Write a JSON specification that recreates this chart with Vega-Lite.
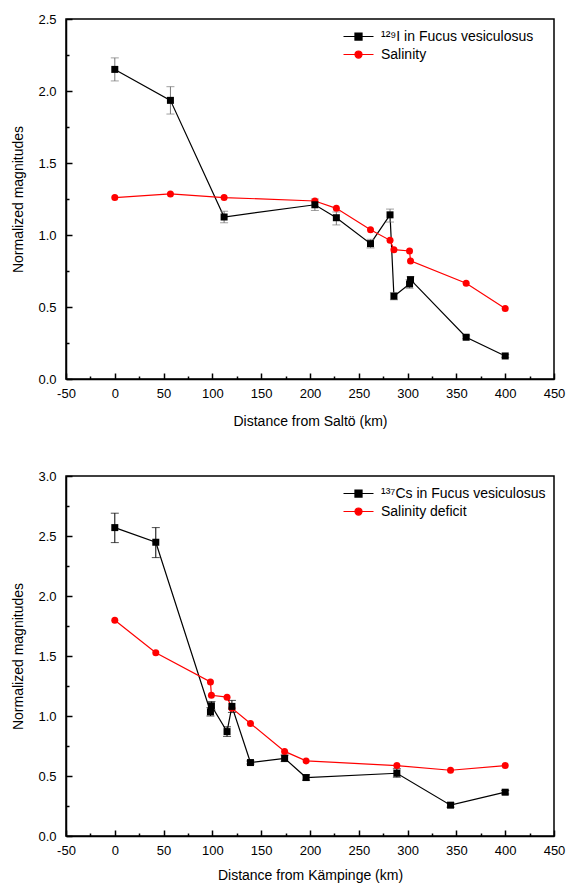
{
  "$schema": "https://vega.github.io/schema/vega-lite/v6.json",
  "padding": {"left": 11, "top": 12, "right": 10, "bottom": 2},
  "spacing": 40,
  "resolve": {"scale": {"color": "independent"}, "legend": {"color": "independent"}},
  "config": {
    "font": "Liberation Sans",
    "view": {"stroke": "black", "strokeWidth": 1.5},
    "axis": {"domainColor": "black", "domainWidth": 1.5, "tickColor": "black", "tickWidth": 1.5, "labelColor": "black", "labelFontSize": 13, "titleFontSize": 14, "titleFontWeight": "normal", "titleColor": "black", "grid": false, "labelFlush": false, "labelOverlap": false, "labelBound": false}
  },
  "datasets": {
    "top": [
      {"d": 0, "v": 2.15, "lo": 2.07, "hi": 2.23, "s": "¹²⁹I in Fucus vesiculosus"},
      {"d": 57, "v": 1.935, "lo": 1.84, "hi": 2.03, "s": "¹²⁹I in Fucus vesiculosus"},
      {"d": 112, "v": 1.125, "lo": 1.085, "hi": 1.165, "s": "¹²⁹I in Fucus vesiculosus"},
      {"d": 205, "v": 1.21, "lo": 1.17, "hi": 1.25, "s": "¹²⁹I in Fucus vesiculosus"},
      {"d": 227, "v": 1.12, "lo": 1.07, "hi": 1.16, "s": "¹²⁹I in Fucus vesiculosus"},
      {"d": 262, "v": 0.94, "lo": 0.91, "hi": 0.97, "s": "¹²⁹I in Fucus vesiculosus"},
      {"d": 282, "v": 1.14, "lo": 1.09, "hi": 1.18, "s": "¹²⁹I in Fucus vesiculosus"},
      {"d": 286, "v": 0.575, "lo": 0.55, "hi": 0.6, "s": "¹²⁹I in Fucus vesiculosus"},
      {"d": 302, "v": 0.66, "lo": 0.63, "hi": 0.69, "s": "¹²⁹I in Fucus vesiculosus"},
      {"d": 303, "v": 0.69, "lo": 0.67, "hi": 0.71, "s": "¹²⁹I in Fucus vesiculosus"},
      {"d": 360, "v": 0.29, "lo": 0.28, "hi": 0.3, "s": "¹²⁹I in Fucus vesiculosus"},
      {"d": 400, "v": 0.16, "lo": 0.15, "hi": 0.17, "s": "¹²⁹I in Fucus vesiculosus"},
      {"d": 0, "v": 1.26, "s": "Salinity"},
      {"d": 57, "v": 1.285, "s": "Salinity"},
      {"d": 112, "v": 1.26, "s": "Salinity"},
      {"d": 205, "v": 1.236, "s": "Salinity"},
      {"d": 227, "v": 1.185, "s": "Salinity"},
      {"d": 262, "v": 1.037, "s": "Salinity"},
      {"d": 282, "v": 0.963, "s": "Salinity"},
      {"d": 286, "v": 0.898, "s": "Salinity"},
      {"d": 302, "v": 0.889, "s": "Salinity"},
      {"d": 303, "v": 0.82, "s": "Salinity"},
      {"d": 360, "v": 0.665, "s": "Salinity"},
      {"d": 400, "v": 0.49, "s": "Salinity"}
    ],
    "bot": [
      {"d": 0, "v": 2.57, "lo": 2.445, "hi": 2.69, "s": "¹³⁷Cs in Fucus vesiculosus"},
      {"d": 42, "v": 2.448, "lo": 2.32, "hi": 2.57, "s": "¹³⁷Cs in Fucus vesiculosus"},
      {"d": 98, "v": 1.035, "lo": 1.0, "hi": 1.07, "s": "¹³⁷Cs in Fucus vesiculosus"},
      {"d": 99, "v": 1.085, "lo": 1.05, "hi": 1.12, "s": "¹³⁷Cs in Fucus vesiculosus"},
      {"d": 115, "v": 0.87, "lo": 0.83, "hi": 0.91, "s": "¹³⁷Cs in Fucus vesiculosus"},
      {"d": 120, "v": 1.08, "lo": 1.03, "hi": 1.13, "s": "¹³⁷Cs in Fucus vesiculosus"},
      {"d": 139, "v": 0.612, "lo": 0.6, "hi": 0.625, "s": "¹³⁷Cs in Fucus vesiculosus"},
      {"d": 174, "v": 0.647, "lo": 0.62, "hi": 0.675, "s": "¹³⁷Cs in Fucus vesiculosus"},
      {"d": 196, "v": 0.487, "lo": 0.465, "hi": 0.51, "s": "¹³⁷Cs in Fucus vesiculosus"},
      {"d": 289, "v": 0.523, "lo": 0.49, "hi": 0.56, "s": "¹³⁷Cs in Fucus vesiculosus"},
      {"d": 344, "v": 0.257, "lo": 0.24, "hi": 0.275, "s": "¹³⁷Cs in Fucus vesiculosus"},
      {"d": 400, "v": 0.365, "lo": 0.35, "hi": 0.38, "s": "¹³⁷Cs in Fucus vesiculosus"},
      {"d": 0, "v": 1.798, "s": "Salinity deficit"},
      {"d": 42, "v": 1.527, "s": "Salinity deficit"},
      {"d": 98, "v": 1.284, "s": "Salinity deficit"},
      {"d": 99, "v": 1.173, "s": "Salinity deficit"},
      {"d": 115, "v": 1.157, "s": "Salinity deficit"},
      {"d": 120, "v": 1.065, "s": "Salinity deficit"},
      {"d": 139, "v": 0.938, "s": "Salinity deficit"},
      {"d": 174, "v": 0.705, "s": "Salinity deficit"},
      {"d": 196, "v": 0.626, "s": "Salinity deficit"},
      {"d": 289, "v": 0.587, "s": "Salinity deficit"},
      {"d": 344, "v": 0.548, "s": "Salinity deficit"},
      {"d": 400, "v": 0.587, "s": "Salinity deficit"}
    ]
  },
  "vconcat": [
    {
      "width": 488, "height": 360,
      "data": {"name": "top"},
      "resolve": {"axis": {"x": "independent", "y": "independent"}},
      "layer": [
        {
          "mark": {"type": "line", "strokeWidth": 1.2},
          "encoding": {
            "x": {"field": "d", "type": "quantitative", "scale": {"domain": [-50, 450], "nice": false},
              "axis": {"orient": "bottom", "title": "Distance from Saltö (km)", "values": [-50,0,50,100,150,200,250,300,350,400,450],
                "labelExpr": "'' + datum.value", "tickSize": -6, "labelPadding": 14, "titlePadding": 14}},
            "y": {"field": "v", "type": "quantitative", "scale": {"domain": [0, 2.5], "nice": false},
              "axis": {"orient": "left", "title": "Normalized magnitudes", "values": [0,0.5,1,1.5,2,2.5], "format": ".1f",
                "tickSize": -6, "labelPadding": 16, "titlePadding": 12}},
            "color": {"field": "s", "type": "nominal", "sort": null,
              "scale": {"domain": ["¹²⁹I in Fucus vesiculosus", "Salinity"], "range": ["#000000", "#ff0000"]},
              "legend": {"title": null, "orient": "none", "legendX": 284, "legendY": 9, "labelFontSize": 14, "labelColor": "black", "symbolSize": 225, "labelOffset": 14, "rowPadding": 2, "labelLimit": 300,
                "encode": {"symbols": {"update": {
                  "shape": {"signal": "datum.value === 'Salinity' ? 'M-2,0H2M0.47,0A0.47,0.47 0 1,1 -0.47,0A0.47,0.47 0 1,1 0.47,0Z' : 'M-2,0H2M-0.47,-0.47H0.47V0.47H-0.47Z'"},
                  "fill": {"signal": "datum.value === 'Salinity' ? '#ff0000' : '#000000'"},
                  "stroke": {"signal": "datum.value === 'Salinity' ? '#ff0000' : '#000000'"},
                  "strokeWidth": {"value": 1.2}, "opacity": {"value": 1}}}}}}
          }
        },
        {
          "transform": [{"filter": "isValid(datum.lo)"}],
          "mark": {"type": "errorbar", "thickness": 1, "rule": {"color": "#777"}, "ticks": {"size": 8, "color": "#777"}},
          "encoding": {
            "x": {"field": "d", "type": "quantitative", "axis": null},
            "y": {"field": "lo", "type": "quantitative", "axis": null},
            "y2": {"field": "hi"}
          }
        },
        {
          "transform": [{"filter": "datum.s === 'Salinity'"}],
          "mark": {"type": "point", "filled": true, "opacity": 1, "size": 49, "shape": "circle", "color": "#ff0000"},
          "encoding": {
            "x": {"field": "d", "type": "quantitative", "axis": null},
            "y": {"field": "v", "type": "quantitative", "axis": null}
          }
        },
        {
          "transform": [{"filter": "datum.s !== 'Salinity'"}],
          "mark": {"type": "point", "filled": true, "opacity": 1, "size": 49, "shape": "square", "color": "#000000"},
          "encoding": {
            "x": {"field": "d", "type": "quantitative",
              "axis": {"orient": "bottom", "title": null, "values": [-25,25,75,125,175,225,275,325,375,425], "labels": false, "domain": false, "tickSize": -3}},
            "y": {"field": "v", "type": "quantitative",
              "axis": {"orient": "left", "title": null, "values": [0.25,0.75,1.25,1.75,2.25], "labels": false, "domain": false, "tickSize": -3}}
          }
        }
      ]
    },
    {
      "width": 488, "height": 360,
      "data": {"name": "bot"},
      "resolve": {"axis": {"x": "independent", "y": "independent"}},
      "layer": [
        {
          "mark": {"type": "line", "strokeWidth": 1.2},
          "encoding": {
            "x": {"field": "d", "type": "quantitative", "scale": {"domain": [-50, 450], "nice": false},
              "axis": {"orient": "bottom", "title": "Distance from Kämpinge (km)", "values": [-50,0,50,100,150,200,250,300,350,400,450],
                "labelExpr": "'' + datum.value", "tickSize": -6, "labelPadding": 14, "titlePadding": 11}},
            "y": {"field": "v", "type": "quantitative", "scale": {"domain": [0, 3], "nice": false},
              "axis": {"orient": "left", "title": "Normalized magnitudes", "values": [0,0.5,1,1.5,2,2.5,3], "format": ".1f",
                "tickSize": -6, "labelPadding": 16, "titlePadding": 12}},
            "color": {"field": "s", "type": "nominal", "sort": null,
              "scale": {"domain": ["¹³⁷Cs in Fucus vesiculosus", "Salinity deficit"], "range": ["#000000", "#ff0000"]},
              "legend": {"title": null, "orient": "none", "legendX": 284, "legendY": 9, "labelFontSize": 14, "labelColor": "black", "symbolSize": 225, "labelOffset": 14, "rowPadding": 2, "labelLimit": 300,
                "encode": {"symbols": {"update": {
                  "shape": {"signal": "datum.value === 'Salinity deficit' ? 'M-2,0H2M0.47,0A0.47,0.47 0 1,1 -0.47,0A0.47,0.47 0 1,1 0.47,0Z' : 'M-2,0H2M-0.47,-0.47H0.47V0.47H-0.47Z'"},
                  "fill": {"signal": "datum.value === 'Salinity deficit' ? '#ff0000' : '#000000'"},
                  "stroke": {"signal": "datum.value === 'Salinity deficit' ? '#ff0000' : '#000000'"},
                  "strokeWidth": {"value": 1.2}, "opacity": {"value": 1}}}}}}
          }
        },
        {
          "transform": [{"filter": "isValid(datum.lo)"}],
          "mark": {"type": "errorbar", "thickness": 1, "rule": {"color": "#000"}, "ticks": {"size": 8, "color": "#000"}},
          "encoding": {
            "x": {"field": "d", "type": "quantitative", "axis": null},
            "y": {"field": "lo", "type": "quantitative", "axis": null},
            "y2": {"field": "hi"}
          }
        },
        {
          "transform": [{"filter": "datum.s === 'Salinity deficit'"}],
          "mark": {"type": "point", "filled": true, "opacity": 1, "size": 49, "shape": "circle", "color": "#ff0000"},
          "encoding": {
            "x": {"field": "d", "type": "quantitative", "axis": null},
            "y": {"field": "v", "type": "quantitative", "axis": null}
          }
        },
        {
          "transform": [{"filter": "datum.s !== 'Salinity deficit'"}],
          "mark": {"type": "point", "filled": true, "opacity": 1, "size": 49, "shape": "square", "color": "#000000"},
          "encoding": {
            "x": {"field": "d", "type": "quantitative",
              "axis": {"orient": "bottom", "title": null, "values": [-25,25,75,125,175,225,275,325,375,425], "labels": false, "domain": false, "tickSize": -3}},
            "y": {"field": "v", "type": "quantitative",
              "axis": {"orient": "left", "title": null, "values": [0.25,0.75,1.25,1.75,2.25,2.75], "labels": false, "domain": false, "tickSize": -3}}
          }
        }
      ]
    }
  ]
}
